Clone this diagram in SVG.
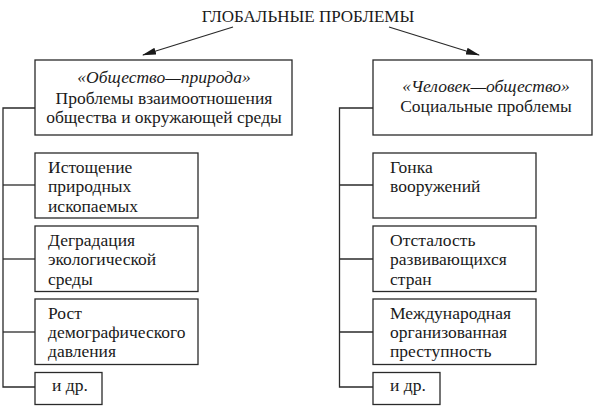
<svg xmlns="http://www.w3.org/2000/svg" width="594" height="406" viewBox="0 0 594 406">
<style>
.box{fill:#fff;stroke:#2a2a2a;stroke-width:1.3}
.ln{fill:none;stroke:#2a2a2a;stroke-width:1.3}
text{font-family:"Liberation Serif","Times New Roman",serif;font-size:17.5px;fill:#1a1a1a}
.it{font-style:italic}
.c{text-anchor:middle}
</style>
<defs>
<marker id="ah" markerWidth="14" markerHeight="8" refX="13" refY="4" orient="auto" markerUnits="userSpaceOnUse">
<path d="M0,0.5 L14,4 L0,7.5 Z" fill="#1a1a1a"/>
</marker>
</defs>
<text id="title" x="308" y="22" class="c" style="font-size:17px">ГЛОБАЛЬНЫЕ ПРОБЛЕМЫ</text>
<g id="connectors">
<line class="ln" x1="233" y1="27" x2="143" y2="55" marker-end="url(#ah)"/>
<line class="ln" x1="389" y1="27" x2="479" y2="55" marker-end="url(#ah)"/>
<polyline class="ln" points="35,108 3,108 3,387 35,387"/>
<line class="ln" x1="3" y1="185" x2="35" y2="185"/>
<line class="ln" x1="3" y1="259" x2="35" y2="259"/>
<line class="ln" x1="3" y1="332" x2="35" y2="332"/>
<polyline class="ln" points="373,108 339.5,108 339.5,387 373,387"/>
<line class="ln" x1="339.5" y1="185" x2="373" y2="185"/>
<line class="ln" x1="339.5" y1="259" x2="373" y2="259"/>
<line class="ln" x1="339.5" y1="332" x2="373" y2="332"/>
</g>
<g id="n-left-top">
<rect class="box" x="35" y="60" width="257" height="75"/>
<text x="164" y="83" class="c it">«Общество—природа»</text>
<text x="164" y="104" class="c">Проблемы взаимоотношения</text>
<text x="164" y="123" class="c">общества и окружающей среды</text>
</g>
<g id="n-right-top">
<rect class="box" x="373" y="60" width="219" height="75"/>
<text x="486" y="92" class="c it">«Человек—общество»</text>
<text x="486" y="112" class="c">Социальные проблемы</text>
</g>
<g id="n-l1">
<rect class="box" x="35" y="153" width="163" height="65"/>
<text x="48" y="172.5">Истощение</text>
<text x="48" y="192">природных</text>
<text x="48" y="211.5">ископаемых</text>
</g>
<g id="n-l2">
<rect class="box" x="35" y="226" width="163" height="65.5"/>
<text x="48" y="245.5">Деградация</text>
<text x="48" y="265">экологической</text>
<text x="48" y="284.5">среды</text>
</g>
<g id="n-l3">
<rect class="box" x="35" y="299" width="163" height="65.5"/>
<text x="48" y="319">Рост</text>
<text x="48" y="338">демографического</text>
<text x="48" y="357">давления</text>
</g>
<g id="n-l4">
<rect class="box" x="35" y="372.5" width="67" height="32"/>
<text x="52" y="390.5">и др.</text>
</g>
<g id="n-r1">
<rect class="box" x="373" y="153" width="163" height="65"/>
<text x="390" y="172.5">Гонка</text>
<text x="390" y="192">вооружений</text>
</g>
<g id="n-r2">
<rect class="box" x="373" y="226" width="163" height="65.5"/>
<text x="390" y="245.5">Отсталость</text>
<text x="390" y="265">развивающихся</text>
<text x="390" y="284.5">стран</text>
</g>
<g id="n-r3">
<rect class="box" x="373" y="299" width="163" height="65.5"/>
<text x="390" y="319">Международная</text>
<text x="390" y="338">организованная</text>
<text x="390" y="357">преступность</text>
</g>
<g id="n-r4">
<rect class="box" x="373" y="372.5" width="67" height="32"/>
<text x="390" y="390.5">и др.</text>
</g>
</svg>
